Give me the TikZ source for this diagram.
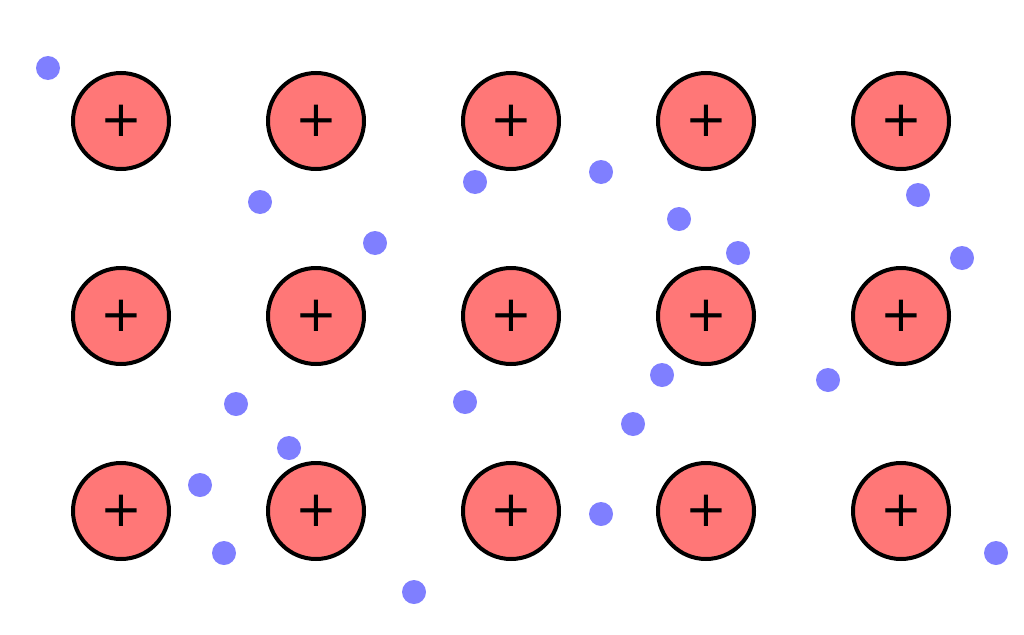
\documentclass[tikz,border=0pt]{standalone}
\usepackage{fontspec}
\setmainfont{DejaVu Sans}
\begin{document}
\begin{tikzpicture}[x=1pt,y=-1pt,
 ion/.style={circle,draw=black,line width=4pt,fill=ionred,minimum size=96pt,inner sep=0pt,font=\fontsize{50}{50}\selectfont},
 el/.style={circle,fill=elblue,minimum size=24pt,inner sep=0pt}]
\definecolor{ionred}{HTML}{FF7777}
\definecolor{elblue}{HTML}{7F7FFF}
\useasboundingbox (0,0) rectangle (1024,634);
\foreach \i/\x in {1/121,2/316,3/511,4/706,5/901}
 \foreach \j/\y in {1/121,2/316,3/511}
  \node[ion] (i\i\j) at (\x,\y) {+};
\foreach \x/\y [count=\k] in {48/68,260/202,475/182,601/172,679/219,738/253,918/195,962/258,375/243,236/404,289/448,200/485,224/553,465/402,662/375,633/424,828/380,601/514,414/592,996/553}
 \node[el] (e\k) at (\x,\y) {};
\end{tikzpicture}
\end{document}
